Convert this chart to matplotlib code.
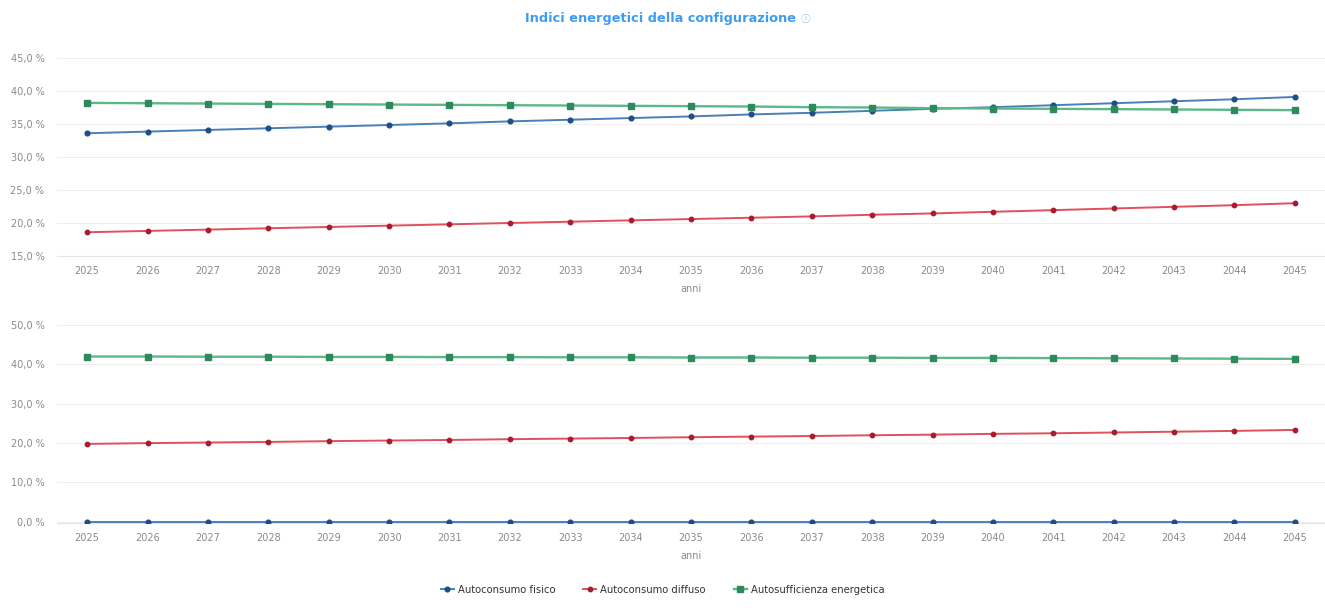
import matplotlib.pyplot as plt
from matplotlib.ticker import FuncFormatter

years = list(range(2025, 2046))

# top chart
top_fisico = [33.6, 33.85, 34.1, 34.35, 34.6, 34.85, 35.1, 35.4, 35.65, 35.9, 36.15,
              36.45, 36.7, 37.0, 37.3, 37.55, 37.85, 38.15, 38.45, 38.75, 39.1]
top_diffuso = [18.6, 18.8, 19.0, 19.2, 19.4, 19.6, 19.8, 20.0, 20.2, 20.4, 20.6,
               20.8, 21.0, 21.25, 21.45, 21.7, 21.95, 22.2, 22.45, 22.7, 23.0]
top_autosuff = [38.2, 38.15, 38.1, 38.05, 38.0, 37.95, 37.9, 37.85, 37.8, 37.75, 37.7,
                37.65, 37.55, 37.5, 37.4, 37.35, 37.3, 37.25, 37.2, 37.15, 37.1]

# bottom chart
bot_fisico = [0.0] * 21
bot_diffuso = [19.8, 20.0, 20.15, 20.3, 20.5, 20.65, 20.8, 21.0, 21.15, 21.3, 21.5,
               21.65, 21.8, 22.0, 22.15, 22.35, 22.5, 22.7, 22.9, 23.1, 23.35]
bot_autosuff = [42.0, 42.0, 41.95, 41.95, 41.9, 41.9, 41.85, 41.85, 41.8, 41.8, 41.75,
                41.75, 41.7, 41.7, 41.65, 41.65, 41.6, 41.55, 41.5, 41.45, 41.4]

labels = ["Autoconsumo fisico", "Autoconsumo diffuso", "Autosufficienza energetica"]
BLUE = "#4a80b8"
BLUE_M = "#1f4e86"
RED = "#e0505e"
RED_M = "#a81c30"
GREEN = "#5cb88a"
GREEN_M = "#2e8a5a"
TICK = "#8a8a8a"

fig = plt.figure(figsize=(13.25, 6.12), dpi=100)

pct = FuncFormatter(lambda v, _: f"{v:.1f}".replace(".", ",") + " %")


def draw(ax, fisico, diffuso, autosuff, ylim, yticks):
    h = []
    h += ax.plot(years, fisico, color=BLUE, lw=1.4, marker="o", ms=3.4,
                 mfc=BLUE_M, mec=BLUE_M, zorder=3)
    h += ax.plot(years, diffuso, color=RED, lw=1.4, marker="o", ms=3.2,
                 mfc=RED_M, mec=RED_M, zorder=3)
    h += ax.plot(years, autosuff, color=GREEN, lw=1.7, marker="s", ms=4.4,
                 mfc=GREEN_M, mec=GREEN_M, zorder=3)
    ax.set_xlim(2024.5, 2045.5)
    ax.set_ylim(*ylim)
    ax.set_yticks(yticks)
    ax.yaxis.set_major_formatter(pct)
    ax.set_xticks(years)
    ax.grid(axis="y", color="#efefef", lw=0.8)
    for s in ["top", "right", "left"]:
        ax.spines[s].set_visible(False)
    ax.spines["bottom"].set_color("#e6e6e6")
    ax.tick_params(axis="both", length=0, labelsize=7, colors=TICK)
    ax.tick_params(axis="x", pad=7)
    ax.tick_params(axis="y", pad=9)
    ax.set_xlabel("anni", fontsize=7, color=TICK, labelpad=6)
    return h


ax1 = fig.add_axes([0.043, 0.5817, 0.957, 0.3235])
draw(ax1, top_fisico, top_diffuso, top_autosuff, (15, 45), [15, 20, 25, 30, 35, 40, 45])

ax2 = fig.add_axes([0.043, 0.1454, 0.957, 0.3235])
handles = draw(ax2, bot_fisico, bot_diffuso, bot_autosuff, (0, 50), [0, 10, 20, 30, 40, 50])
ax2.set_ylim(-0.3, 50)

fig.text(0.4985, 0.969, "Indici energetici della configurazione", ha="center", va="center",
         fontsize=9.3, fontweight="bold", color="#3d9cf0", family=["DejaVu Sans"])
fig.text(0.608, 0.969, "\u24d8", ha="center", va="center",
         fontsize=7, color="#8cc4f5", family=["Noto Sans CJK SC", "DejaVu Sans"])

fig.legend(handles, labels, loc="center", bbox_to_anchor=(0.5, 0.036), ncol=3,
           frameon=False, fontsize=7.2, handlelength=1.3, columnspacing=2.8,
           handletextpad=0.4, labelcolor="#333333")

fig.savefig("out.png", dpi=100)
